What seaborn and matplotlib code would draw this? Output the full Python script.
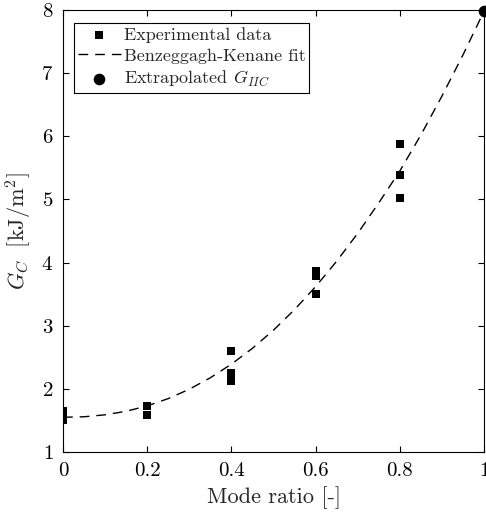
import matplotlib
matplotlib.use("Agg")
import matplotlib.pyplot as plt
import seaborn as sns
import pandas as pd

# Experimental data (mode ratio, G_C)
exp_x = [0.0, 0.0, 0.0, 0.2, 0.2, 0.4, 0.4, 0.4, 0.6, 0.6, 0.6, 0.8, 0.8, 0.8]
exp_y = [1.65, 1.57, 1.50, 1.73, 1.58, 2.60, 2.25, 2.13, 3.86, 3.78, 3.50, 5.87, 5.39, 5.02]

# Benzeggagh-Kenane fit curve
fit_x = [0.0, 0.05, 0.1, 0.15, 0.2, 0.25, 0.3, 0.35, 0.4, 0.45, 0.5,
         0.55, 0.6, 0.65, 0.7, 0.75, 0.8, 0.85, 0.9, 0.95, 1.0]
fit_y = [1.55, 1.558, 1.589, 1.645, 1.73, 1.846, 1.994, 2.176, 2.391, 2.642, 2.93,
         3.255, 3.619, 4.021, 4.463, 4.945, 5.45, 6.02, 6.635, 7.288, 7.98]

# Extrapolated G_IIC
ext_x = [1.0]
ext_y = [7.98]

x_ticks = [0, 0.2, 0.4, 0.6, 0.8, 1]
x_tick_labels = ["0", "0.2", "0.4", "0.6", "0.8", "1"]
y_ticks = [1, 2, 3, 4, 5, 6, 7, 8]

sns.set_style("ticks")
plt.rcParams["font.family"] = ["cmr10", "DejaVu Serif"]
plt.rcParams["mathtext.fontset"] = "cm"
plt.rcParams["axes.formatter.use_mathtext"] = True
plt.rcParams["axes.unicode_minus"] = False

fig = plt.figure(figsize=(4.86, 5.13), dpi=100)
ax = fig.add_axes([63/486, 1-452/513, (484-63)/486, (452-10)/513])

df_exp = pd.DataFrame({"x": exp_x, "y": exp_y})
df_fit = pd.DataFrame({"x": fit_x, "y": fit_y})
df_ext = pd.DataFrame({"x": ext_x, "y": ext_y})

sns.scatterplot(data=df_exp, x="x", y="y", ax=ax, marker="s", s=40, color="black",
                edgecolor="black", linewidth=0, label="Experimental data", zorder=3)
sns.lineplot(data=df_fit, x="x", y="y", ax=ax, color="black", linewidth=1.0,
             dashes=False, label="Benzeggagh-Kenane fit", zorder=2)
ax.lines[-1].set_dashes([7, 5])
sns.scatterplot(data=df_ext, x="x", y="y", ax=ax, marker="o", s=70, color="black",
                edgecolor="black", linewidth=0, label=r"Extrapolated $G_{IIC}$",
                zorder=4, clip_on=False)

ax.set_xlim(0, 1)
ax.set_ylim(1, 8)
ax.set_xticks(x_ticks)
ax.set_xticklabels(x_tick_labels)
ax.set_yticks(y_ticks)
ax.tick_params(direction="in", length=4, width=0.8, top=True, right=True,
               labelsize=15, colors="black", pad=7)
for sp in ax.spines.values():
    sp.set_visible(True)
    sp.set_color("black")
    sp.set_linewidth(0.8)

ax.set_xlabel("Mode ratio [-]", fontsize=16, labelpad=5)
ax.set_ylabel(r"$G_C\ \ [\mathrm{kJ/m^2}]$", fontsize=16, labelpad=5)

leg = ax.legend(loc="upper left", bbox_to_anchor=(0.026, 0.97), fontsize=13,
                frameon=True, fancybox=False, edgecolor="black", framealpha=1,
                handlelength=2.4, handletextpad=0.15, borderpad=0.2,
                labelspacing=0.3, borderaxespad=0)
leg.get_frame().set_linewidth(0.8)

fig.savefig("out.png", dpi=100)
